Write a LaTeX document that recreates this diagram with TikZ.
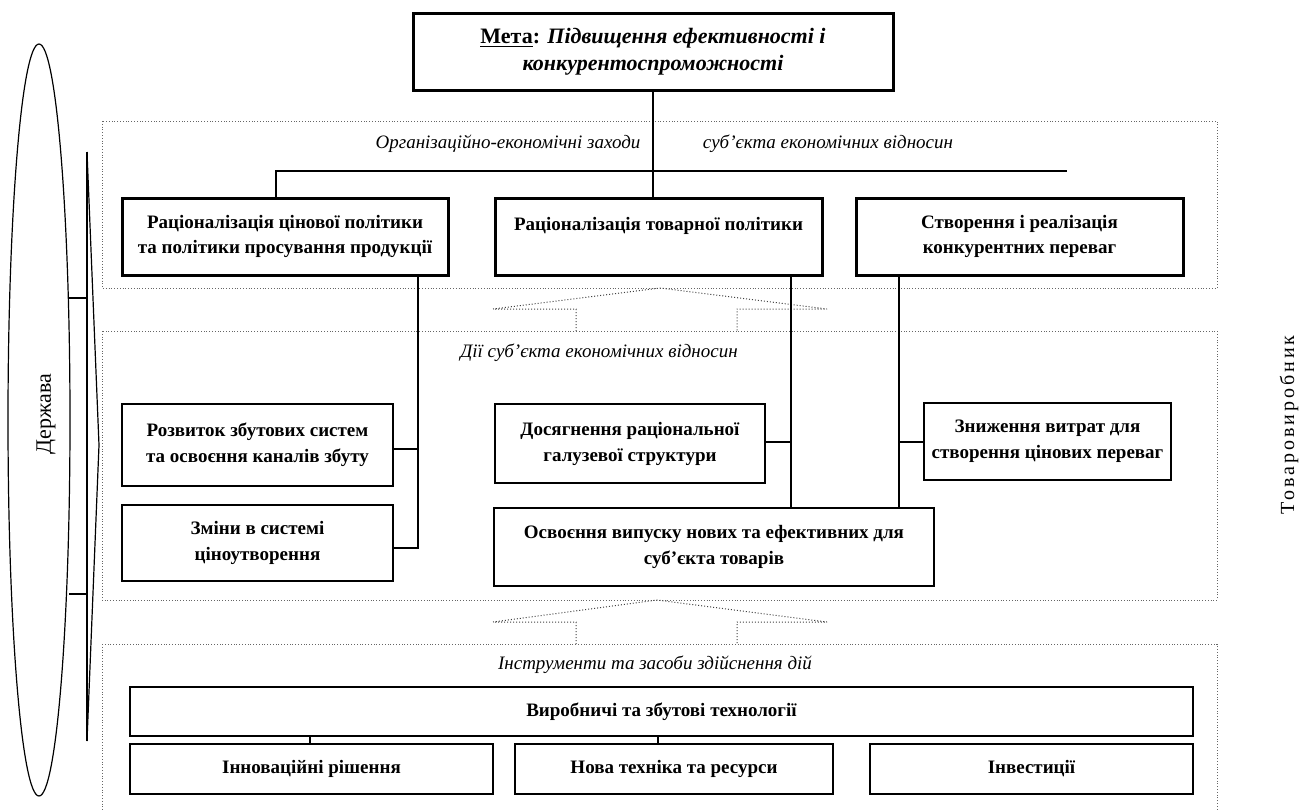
\documentclass[tikz,border=0pt]{standalone}
\usepackage{fontspec}
\setmainfont{Liberation Serif}
\usetikzlibrary{positioning,shapes.geometric}

\tikzset{
  region/.style={draw=gray!80!black, densely dotted, line width=0.4pt},
  blockarrow/.style={draw=black!75, densely dotted, line width=0.5pt},
  thickbox/.style={draw, line width=1.5pt, align=center, inner sep=0pt,
    font=\bfseries\fontsize{9.5}{12.5}\selectfont},
  thinbox/.style={draw, line width=0.6pt, align=center, inner sep=0pt,
    font=\bfseries\fontsize{9.5}{13}\selectfont},
  zone/.style={inner sep=0pt, font=\itshape\fontsize{9.5}{11}\selectfont},
  link/.style={line width=0.6pt}
}

\begin{document}
\begin{tikzpicture}[x=0.5pt,y=-0.5pt]
\useasboundingbox (0,0) rectangle (1312,810);
%dotted regions
\draw[region] (102,121) rectangle (1217,288);
\draw[region] (102,331) rectangle (1217,600);
\draw[region] (102,644) rectangle (1217,830);
%block arrows between regions
\draw[blockarrow] (576,331) -- (576,309) -- (493,309) -- (660,288) -- (827,309) -- (737,309) -- (737,331);
\draw[blockarrow] (576,644) -- (576,622) -- (493,622) -- (657,600) -- (827,622) -- (737,622) -- (737,644);

%goal
\node[draw, line width=1.5pt, align=center, inner sep=0pt, minimum width=240pt, minimum height=38.5pt,
  font=\bfseries\fontsize{11}{13.5}\selectfont] (goal) at (653,51.5)
  {\underline{Мета}: \textit{Підвищення ефективності і}\\ \textit{конкурентоспроможності}};

%region labels
\node[zone] (orgl) at (508,144) {Організаційно-економічні заходи};
\node[zone] (orgr) at (828,144) {суб’єкта економічних відносин};
\node[zone] (acts) at (599,353) {Дії суб’єкта економічних відносин};
\node[zone] (tools) at (655,665) {Інструменти та засоби здійснення дій};

%measures
\node[thickbox, minimum width=163pt, minimum height=38.5pt] (pricepol) at (285,236.5)
  {Раціоналізація цінової політики\\ та політики просування продукції};
\node[thickbox, minimum width=163.5pt, minimum height=38.5pt] (prodpol) at (658.5,236.5)
  {Раціоналізація товарної політики\\ \mbox{}};
\node[thickbox, minimum width=163.5pt, minimum height=38.5pt] (compadv) at (1019.5,236.5)
  {Створення і реалізація\\ конкурентних переваг};

%actions
\node[thinbox, minimum width=135.5pt, minimum height=41pt] (sales) at (257.5,445)
  {Розвиток збутових систем\\ та освоєння каналів збуту};
\node[thinbox, minimum width=135.5pt, minimum height=38pt] (pricing) at (257.5,543)
  {Зміни в системі\\ ціноутворення};
\node[thinbox, minimum width=135pt, minimum height=39.5pt] (struct) at (630,443.5)
  {Досягнення раціональної\\ галузевої структури};
\node[thinbox, minimum width=123.5pt, minimum height=38.5pt] (costs) at (1047.5,441.5)
  {Зниження витрат для\\ створення цінових переваг};
\node[thinbox, minimum width=220pt, minimum height=39pt] (newgoods) at (714,547)
  {Освоєння випуску нових та ефективних для\\ суб’єкта товарів};

%tools
\node[thinbox, minimum width=531.5pt, minimum height=24.5pt] (tech) at (661.5,711.5)
  {Виробничі та збутові технології};
\node[thinbox, minimum width=181.5pt, minimum height=25pt] (innov) at (311.5,769)
  {Інноваційні рішення};
\node[thinbox, minimum width=159pt, minimum height=25pt] (equip) at (674,769)
  {Нова техніка та ресурси};
\node[thinbox, minimum width=161.5pt, minimum height=25pt] (invest) at (1031.5,769)
  {Інвестиції};

%connectors
\coordinate (hl) at (276,171);
\coordinate (hr) at (1067,171);
\draw[link] (goal.south) -- (goal.south |- prodpol.north);
\draw[link] (hl |- pricepol.north) -- (hl) -- (hr);
\coordinate (pa) at (418,0);
\draw[link] (pa |- pricepol.south) -- (pa |- 0,548) -- (pricing.east |- 0,548);
\draw[link] (sales.east |- 0,449) -- (pa |- 0,449);
\coordinate (pb) at (791,0);
\draw[link] (pb |- prodpol.south) -- (pb |- newgoods.north);
\draw[link] (struct.east |- 0,442) -- (pb |- 0,442);
\coordinate (pc) at (899,0);
\draw[link] (pc |- compadv.south) -- (pc |- newgoods.north);
\draw[link] (pc |- 0,442) -- (costs.west |- 0,442);
\draw[link] (tech.south -| 310,0) -- (innov.north -| 310,0);
\draw[link] (tech.south -| 658,0) -- (equip.north -| 658,0);

%state
\node[draw, ellipse, line width=0.6pt, minimum width=31pt, minimum height=376pt, inner sep=0pt] (state) at (39,420) {};
\node[rotate=90, inner sep=0pt, font=\fontsize{11}{13}\selectfont] (statel) at (46,414) {Держава};
\coordinate (brtop) at (87,152);
\coordinate (brtip) at (99,445);
\coordinate (brbot) at (87,741);
\draw[link] (brtop) -- (brbot);
\draw[link] (brtop) -- (brtip) -- (brbot);
\draw[link] (69,298) -- (brtop |- 0,298);
\draw[link] (69,594) -- (brtop |- 0,594);

%producer
\node[rotate=90, inner sep=0pt, font=\fontsize{10}{12}\selectfont\addfontfeature{LetterSpace=15}] (producer) at (1289,425) {Товаровиробник};
\end{tikzpicture}
\end{document}
